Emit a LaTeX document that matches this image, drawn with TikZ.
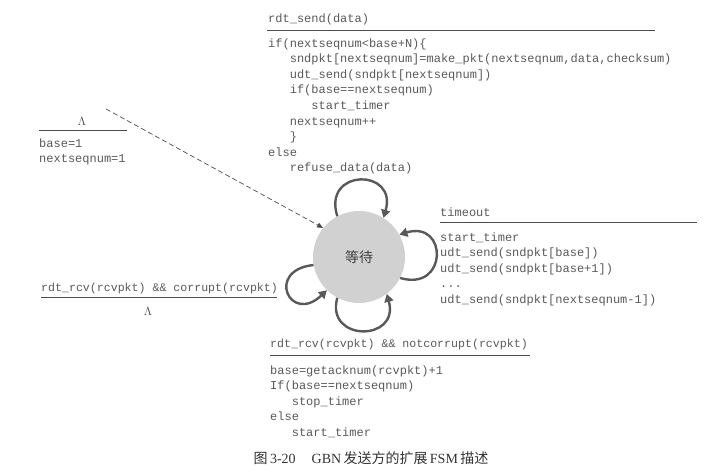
\documentclass[tikz,border=0pt]{standalone}
\usepackage{fontspec}
\setmainfont{Liberation Serif}
\setmonofont{Liberation Mono}
\newfontfamily\cjk{Noto Sans CJK SC}
\usetikzlibrary{arrows.meta}

\newcommand{\ind}{\hspace*{1.8em}}

\begin{document}
\begin{tikzpicture}[x=1pt, y=-1pt,
    code/.style={anchor=base west, inner sep=0pt, align=left, text=black!65, font=\ttfamily\fontsize{12}{15.6}\selectfont},
    evt/.style={anchor=base west, inner sep=0pt, text=black!65, font=\ttfamily\fontsize{12}{15.6}\selectfont},
    lam/.style={anchor=base, inner sep=0pt, text=black!75, font=\fontsize{13}{14}\selectfont},
    rule/.style={draw=black!70, line width=0.8pt},
    state/.style={circle, fill=black!18, minimum size=92pt, inner sep=0pt, text=black!75, font=\cjk\fontsize{14}{14}\selectfont},
    selfloop/.style={draw=black!65, line width=2.4pt, -{Triangle[length=8pt,width=9pt]}},
    initarr/.style={draw=black!70, dash pattern=on 5pt off 3pt, line width=0.7pt, -{Triangle[length=6pt,width=5pt]}},
    capt/.style={inner sep=0pt, text=black!80, font=\fontsize{14}{16}\selectfont}]
  \useasboundingbox (0,0) rectangle (727,472);

  % state
  \node[state] (wait) at (359,257) {等待};

  % initial transition (code nodes sit on the baseline of their last line)
  \node[lam] (initev) at (82,125) {$\Lambda$};
  \draw[rule] (39,130) -- (127,130);
  \node[code] (initact) at (39,162.6) {base=1\\nextseqnum=1};
  \coordinate (initpt) at (106,109);
  \draw[initarr] (initpt) -- (wait.141);

  % rdt_send
  \node[evt] (sendev) at (268,22) {rdt\_send(data)};
  \draw[rule] (267,30) -- (655,30);
  \node[code] (sendact) at (268,171.8) {if(nextseqnum<base+N)\{\\
    \ind sndpkt[nextseqnum]=make\_pkt(nextseqnum,data,checksum)\\
    \ind udt\_send(sndpkt[nextseqnum])\\
    \ind if(base==nextseqnum)\\
    \ind\ind start\_timer\\
    \ind nextseqnum++\\
    \ind\}\\
    else\\
    \ind refuse\_data(data)};

  % timeout
  \node[evt] (toutev) at (440,216) {timeout};
  \draw[rule] (440,222) -- (697,222);
  \node[code] (toutact) at (440,303.4) {start\_timer\\
    udt\_send(sndpkt[base])\\
    udt\_send(sndpkt[base+1])\\
    ...\\
    udt\_send(sndpkt[nextseqnum-1])};

  % corrupt
  \node[evt, font=\ttfamily\fontsize{11.6}{15.6}\selectfont] (correv) at (41,291) {rdt\_rcv(rcvpkt) \&\& corrupt(rcvpkt)};
  \draw[rule] (41,297) -- (277,297);
  \node[lam] (corract) at (148,315) {$\Lambda$};

  % notcorrupt
  \node[evt, font=\ttfamily\fontsize{11.6}{15.6}\selectfont] (ackev) at (270,347) {rdt\_rcv(rcvpkt) \&\& notcorrupt(rcvpkt)};
  \draw[rule] (270,355) -- (530,355);
  \node[code] (ackact) at (270,436.4) {base=getacknum(rcvpkt)+1\\
    If(base==nextseqnum)\\
    \ind stop\_timer\\
    else\\
    \ind start\_timer};

  % self loops
  \draw[selfloop] (wait.118) .. controls (322,168) and (398,168) .. (wait.58);
  \draw[selfloop] (wait.-27) .. controls (448,292) and (448,220) .. (wait.29);
  \draw[selfloop] (wait.190) .. controls (265,270) and (290,325) .. (wait.226);
  \draw[selfloop] (wait.242) .. controls (325,342) and (400,342) .. (wait.307);

  \node[capt] (cap) at (371,458) {{\cjk 图}\,3-20\hspace{16pt}GBN\,{\cjk 发送方的扩展}\,FSM\,{\cjk 描述}};
\end{tikzpicture}
\end{document}
